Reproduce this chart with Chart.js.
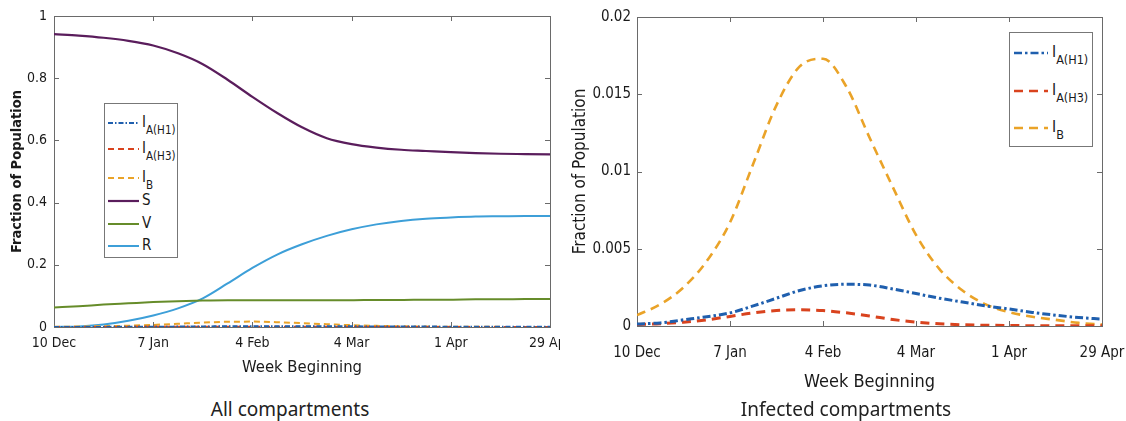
<!DOCTYPE html>
<html>
<head>
<meta charset="utf-8">
<title>Influenza compartments</title>
<script src="https://cdn.jsdelivr.net/npm/chart.js@4.4.0/dist/chart.umd.min.js"></script>
<style>
  html, body { margin: 0; padding: 0; background: #fff; }
  body { width: 1126px; height: 421px; position: relative; overflow: hidden; }
  .panel { position: absolute; top: 0; }
  .legend {
    position: absolute; background: #fff; border: 1px solid #777; box-sizing: border-box;
    font-family: 'Liberation Sans Narrow', 'DejaVu Sans Condensed', sans-serif; color: #1a1a1a;
  }
  .legend svg { position: absolute; overflow: visible; }
  .legend .lab { position: absolute; white-space: nowrap; line-height: 16px; }
  .legend .lab sub { vertical-align: -7px; line-height: 0; }
  .caption {
    position: absolute; top: 396px; width: 400px; text-align: center;
    font-family: 'Noto Sans', 'Open Sans', sans-serif; font-size: 19px; color: #222;
  }
</style>
</head>
<body>

<div class="panel" style="left:0; width:560px; height:390px;">
  <canvas id="allChart" width="560" height="390"></canvas>
  <div class="legend" id="allLegend" style="left:104px; top:103px; width:74px; height:155px;"></div>
</div>
<div class="panel" style="left:565px; width:561px; height:400px;">
  <canvas id="infChart" width="561" height="400"></canvas>
  <div class="legend" id="infLegend" style="left:444px; top:32px; width:84px; height:115px;"></div>
</div>
<div class="caption" style="left:90px;">All compartments</div>
<div class="caption" style="left:646px;">Infected compartments</div>

<script>
/* ---------- data (fraction of population, weekly from 10 Dec) ---------- */
const weeks = [0, 1, 2, 3, 4, 5, 6, 7, 8, 9, 10, 11, 12, 13, 14, 15, 16, 17, 18, 19, 20];
const dateTicks = ['10 Dec', '7 Jan', '4 Feb', '4 Mar', '1 Apr', '29 Apr'];
const yTicksAll = ['0', '0.2', '0.4', '0.6', '0.8', '1'];
const yTicksInf = ['0', '0.005', '0.01', '0.015', '0.02'];

const iH1 = [0.00013, 0.0002, 0.0004, 0.0006, 0.00085, 0.0013, 0.0018, 0.0023, 0.0026, 0.0027, 0.00265,
             0.0024, 0.0021, 0.0018, 0.00155, 0.0013, 0.0011, 0.00088, 0.0007, 0.00055, 0.00045];
const iH3 = [0.0001, 0.00015, 0.00025, 0.0004, 0.00062, 0.00085, 0.001, 0.00105, 0.001, 0.00085, 0.00065,
             0.00042, 0.00025, 0.00014, 0.00008, 0.00005, 0.00003, 0.00002, 0.00001, 0.00001, 0.00001];
const iB  = [0.0007, 0.0014, 0.0025, 0.0042, 0.0067, 0.0105, 0.0143, 0.0168, 0.0173, 0.0155, 0.0122,
             0.009, 0.0059, 0.0037, 0.0023, 0.0014, 0.0009, 0.0006, 0.0004, 0.0002, 0.0001];
const sus = [0.942, 0.937, 0.930, 0.920, 0.905, 0.880, 0.845, 0.795, 0.740, 0.688, 0.642,
             0.607, 0.588, 0.577, 0.570, 0.566, 0.562, 0.559, 0.557, 0.556, 0.555];
const vac = [0.063, 0.067, 0.072, 0.076, 0.080, 0.083, 0.085, 0.086, 0.086, 0.086, 0.086,
             0.086, 0.086, 0.087, 0.087, 0.088, 0.088, 0.089, 0.089, 0.090, 0.090];
const rec = [0, 0.002, 0.008, 0.020, 0.037, 0.060, 0.092, 0.140, 0.190, 0.233, 0.266,
             0.293, 0.314, 0.330, 0.341, 0.348, 0.352, 0.355, 0.356, 0.357, 0.357];

/* ---------- styles ---------- */
const TICK_FONT = "'Liberation Sans Narrow', 'DejaVu Sans Condensed', sans-serif";
const C_H1 = '#1f5fae', C_H3 = '#d9431e', C_B = '#eaa328';
const C_S = '#5a1d5c', C_V = '#668c2a', C_R = '#3d9fd8';

// MATLAB style box with tick marks pointing inwards on all four sides
const boxTicks = {
  id: 'boxTicks',
  beforeDatasetsDraw(chart) {
    const { ctx, chartArea: a, scales: { x, y } } = chart;
    const len = 5;
    ctx.save();
    ctx.strokeStyle = '#6a6a6a';
    ctx.lineWidth = 1;
    ctx.strokeRect(Math.round(a.left) + 0.5, Math.round(a.top) + 0.5,
                   Math.round(a.right - a.left), Math.round(a.bottom - a.top));
    ctx.beginPath();
    x.ticks.forEach(t => {
      const px = Math.round(x.getPixelForValue(t.value)) + 0.5;
      ctx.moveTo(px, a.bottom); ctx.lineTo(px, a.bottom - len);
      ctx.moveTo(px, a.top); ctx.lineTo(px, a.top + len);
    });
    y.ticks.forEach(t => {
      const py = Math.round(y.getPixelForValue(t.value)) + 0.5;
      ctx.moveTo(a.left, py); ctx.lineTo(a.left + len, py);
      ctx.moveTo(a.right, py); ctx.lineTo(a.right - len, py);
    });
    ctx.stroke();
    ctx.restore();
  }
};

function series(label, data, color, dash, width) {
  return { label, data, borderColor: color, borderDash: dash, borderWidth: width,
           fill: false, pointRadius: 0, tension: 0.4, cubicInterpolationMode: 'monotone',
           borderCapStyle: 'butt' };
}

function makeChart(id, o) {
  return new Chart(document.getElementById(id), {
    type: 'line',
    data: { labels: weeks, datasets: o.datasets },
    options: {
      responsive: false,
      animation: false,
      events: [],
      layout: { padding: o.pad },
      plugins: { legend: { display: false }, tooltip: { enabled: false } },
      scales: {
        x: {
          type: 'linear', min: 0, max: 20,
          afterFit(s) { s.height = o.xHeight; s.paddingLeft = 0; s.paddingRight = 0; },
          grid: { display: false, drawTicks: false },
          border: { display: false },
          ticks: {
            stepSize: 4, autoSkip: false, maxRotation: 0, padding: o.xPad,
            color: '#1a1a1a', font: { family: TICK_FONT, size: o.tickSize },
            callback: (v, i) => dateTicks[i]
          },
          title: {
            display: true, text: 'Week Beginning', color: '#1a1a1a',
            font: { family: TICK_FONT, size: o.titleSize },
            padding: { top: 0, bottom: o.xTitlePad }
          }
        },
        y: {
          min: 0, max: o.yMax,
          afterFit(s) { s.width = o.yWidth; s.paddingTop = 0; s.paddingBottom = 0; },
          grid: { display: false, drawTicks: false },
          border: { display: false },
          ticks: {
            stepSize: o.yStep, padding: o.yPad,
            color: '#1a1a1a', font: { family: TICK_FONT, size: o.tickSize },
            callback: (v, i) => o.yLabels[i]
          },
          title: {
            display: true, text: 'Fraction of Population', color: '#1a1a1a',
            font: { family: TICK_FONT, size: o.yTitleSize, weight: o.yTitleWeight },
            padding: { top: o.yTitlePad, bottom: 0 }
          }
        }
      }
    },
    plugins: [boxTicks]
  });
}

/* ---------- left: all compartments ---------- */
const allChart = makeChart('allChart', {
  datasets: [
    series('IA(H1)', iH1, C_H1, [5, 2, 1.5, 2], 2),
    series('IA(H3)', iH3, C_H3, [6, 4], 2),
    series('IB', iB, C_B, [6, 4], 2),
    series('S', sus, C_S, [], 2.2),
    series('V', vac, C_V, [], 2),
    series('R', rec, C_R, [], 2)
  ],
  pad: { left: 0, top: 16, right: 10, bottom: 0 },
  xHeight: 63, yWidth: 54, xPad: 8, yPad: 7,
  tickSize: 14, titleSize: 16.5, xTitlePad: 12,
  yMax: 1, yStep: 0.2, yLabels: yTicksAll,
  yTitleSize: 14.5, yTitleWeight: 'bold', yTitlePad: 9
});

/* ---------- right: infected compartments ---------- */
const infChart = makeChart('infChart', {
  datasets: [
    series('IA(H1)', iH1, C_H1, [8, 3, 2.5, 3], 3),
    series('IA(H3)', iH3, C_H3, [9, 6], 3),
    series('IB', iB, C_B, [9, 6], 2.6)
  ],
  pad: { left: 0, top: 17, right: 24, bottom: 0 },
  xHeight: 74, yWidth: 72, xPad: 18, yPad: 6,
  tickSize: 15, titleSize: 18, xTitlePad: 7,
  yMax: 0.02, yStep: 0.005, yLabels: yTicksInf,
  yTitleSize: 17, yTitleWeight: 'normal', yTitlePad: 5
});

/* ---------- legends with subscripts, built from the chart datasets ---------- */
const legendLabels = {
  'IA(H1)': 'I<sub>A(H1)</sub>', 'IA(H3)': 'I<sub>A(H3)</sub>', 'IB': 'I<sub>B</sub>',
  'S': 'S', 'V': 'V', 'R': 'R'
};

function buildLegend(chart, elId, rows, lineX0, lineX1, textX, fontSize, subSize) {
  const box = document.getElementById(elId);
  chart.data.datasets.forEach((ds, i) => {
    const cy = rows[i];
    const svg = document.createElementNS('http://www.w3.org/2000/svg', 'svg');
    svg.setAttribute('width', lineX1 - lineX0);
    svg.setAttribute('height', 6);
    svg.style.left = lineX0 + 'px';
    svg.style.top = (cy - 3) + 'px';
    const ln = document.createElementNS('http://www.w3.org/2000/svg', 'line');
    ln.setAttribute('x1', 0); ln.setAttribute('x2', lineX1 - lineX0);
    ln.setAttribute('y1', 3); ln.setAttribute('y2', 3);
    ln.setAttribute('stroke', ds.borderColor);
    ln.setAttribute('stroke-width', Math.min(ds.borderWidth, 2.4));
    if (ds.borderDash.length) ln.setAttribute('stroke-dasharray', ds.borderDash.join(' '));
    svg.appendChild(ln);
    box.appendChild(svg);

    const lab = document.createElement('span');
    lab.className = 'lab';
    lab.innerHTML = legendLabels[ds.label];
    lab.style.left = textX + 'px';
    lab.style.top = (cy - 9) + 'px';
    lab.style.fontSize = fontSize + 'px';
    box.appendChild(lab);
    const sub = lab.querySelector('sub');
    if (sub) sub.style.fontSize = subSize + 'px';
  });
}

buildLegend(allChart, 'allLegend', [19, 45, 74, 97, 120, 142], 3, 34, 37, 15, 11.5);
buildLegend(infChart, 'infLegend', [20, 58, 95], 4, 38, 42, 15.5, 12.5);
</script>
</body>
</html>
